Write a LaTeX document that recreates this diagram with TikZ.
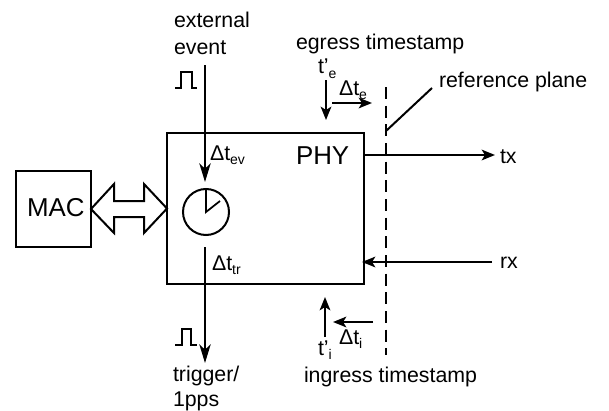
\documentclass[tikz,border=0pt]{standalone}
\usepackage{fontspec}
\setmainfont{Liberation Sans}
\usetikzlibrary{arrows.meta}
\tikzset{
  x=0.75pt,y=-0.75pt,
  lbl/.style={anchor=base west,inner sep=0pt,outer sep=0pt,font=\fontsize{16}{18}\selectfont},
  big/.style={lbl,font=\fontsize{19.4}{22}\selectfont},
  boxn/.style={draw,line width=1.5pt,inner sep=0pt,outer sep=0pt},
  conn/.style={line width=1.5pt},
  arr/.style={conn,-{Stealth[length=10pt,width=8pt,inset=2.5pt]}},
  longarr/.style={conn,-{Stealth[length=14pt,width=8.5pt,inset=4pt]}},
  thin1/.style={line width=1.3pt}
}
\newcommand{\lowtxt}[1]{\raisebox{-0.22em}{\fontsize{10.5}{11}\selectfont #1}}
\begin{document}
\begin{tikzpicture}
\useasboundingbox (0,0) rectangle (609,410);
% boxes
\node[boxn,minimum width=197*0.75pt,minimum height=151*0.75pt] (phy) at (265.5,208.5) {};
\node[boxn,minimum width=75*0.75pt,minimum height=76*0.75pt] (mac) at (53.5,209) {};
\node[big] (mact) at (27,216) {MAC};
\node[big] (phyt) at (296,164) {PHY};
% double arrow
\draw[conn,line join=miter] (mac.east) -- (114,184) -- (114,201) -- (144,201) -- (144,184) -- (phy.west) -- (144,233) -- (144,217) -- (114,217) -- (114,233) -- cycle;
% clock
\node[draw,circle,line width=1.5pt,minimum size=46*0.75pt,inner sep=0pt] (clk) at (206,212) {};
\draw[thin1] (clk.north) -- (clk.center) -- (220,201);
% coordinates
\coordinate (evs) at (205,65); \coordinate (eve) at (205,182);
\coordinate (trs) at (205,247); \coordinate (tre) at (205,363);
\coordinate (tes) at (326,80); \coordinate (tee) at (326,120);
\coordinate (dtes) at (332,103); \coordinate (dtee) at (372,103);
\coordinate (tis) at (325,337); \coordinate (tie) at (325,297);
\coordinate (dtis) at (373,322); \coordinate (dtie) at (333,322);
\coordinate (txs) at (364,155); \coordinate (txe) at (495,155);
\coordinate (rxs) at (492,262); \coordinate (rxe) at (362,262);
\coordinate (pls) at (386,87); \coordinate (ple) at (386,355);
\coordinate (rfa) at (386,131); \coordinate (rfb) at (432,88);
\draw[longarr] (evs) -- (eve);
\draw[longarr] (trs) -- (tre);
\draw[arr] (tes) -- (tee);
\draw[arr] (dtes) -- (dtee);
\draw[arr] (tis) -- (tie);
\draw[arr] (dtis) -- (dtie);
\draw[arr] (txs) -- (txe);
\draw[arr] (rxs) -- (rxe);
\draw[conn,dash pattern=on 9pt off 5pt] (pls) -- (ple);
\draw[conn] (rfa) -- (rfb);
% pulses
\draw[thin1] (175,88) -- (181,88) -- (181,72) -- (192,72) -- (192,88) -- (197,88);
\draw[thin1] (175,345) -- (182,345) -- (182,329) -- (191,329) -- (191,345) -- (197,345);
% text
\node[lbl] (t1) at (174,28) {external};
\node[lbl] (t2) at (174,55) {event};
\node[lbl] (t3) at (173,381) {trigger/};
\node[lbl] (t4) at (173,406) {1pps};
\node[lbl] (t5) at (296,50) {egress timestamp};
\node[lbl] (t6) at (318,74) {t'\lowtxt{e}};
\node[lbl] (t7) at (339,95) {Δt\lowtxt{e}};
\node[lbl] (t8) at (439,87) {reference plane};
\node[lbl] (t9) at (500,163) {tx};
\node[lbl] (t10) at (500,268) {rx};
\node[lbl] (t11) at (210,160) {Δt\lowtxt{ev}};
\node[lbl] (t12) at (212,270) {Δt\lowtxt{tr}};
\node[lbl] (t13) at (339,344) {Δt\lowtxt{i}};
\node[lbl] (t14) at (318,355) {t'\lowtxt{i}};
\node[lbl] (t15) at (304,382) {ingress timestamp};
\end{tikzpicture}
\end{document}
